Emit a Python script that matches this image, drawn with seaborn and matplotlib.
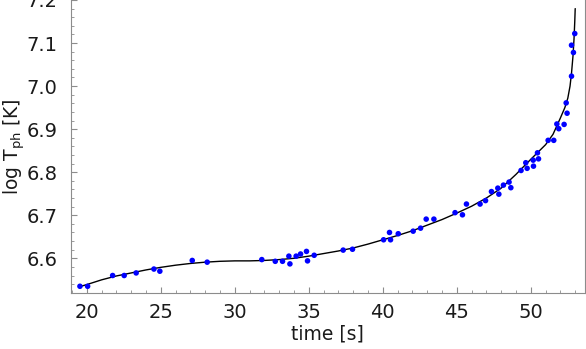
import matplotlib
matplotlib.use("Agg")
import matplotlib.pyplot as plt
from matplotlib.ticker import MultipleLocator
import seaborn as sns
import pandas as pd

# measured points (time [s], log T_ph [K])
time_s = [19.53, 20.05, 21.74, 22.52, 23.33, 24.53, 24.93, 27.12, 28.13,
          31.82, 32.73, 33.22, 33.65, 33.72, 34.14, 34.44, 34.84, 34.91, 35.36,
          37.32, 37.95, 40.05, 40.45, 40.52, 41.04, 42.05, 42.55, 42.93, 43.45,
          44.88, 45.38, 45.65, 46.57, 46.94, 47.34, 47.77, 47.84, 48.15, 48.53,
          48.65, 49.34, 49.66, 49.75, 50.16, 50.18, 50.45, 50.52, 51.17, 51.55,
          51.76, 51.89, 52.25, 52.39, 52.45, 52.75, 52.75, 52.88, 52.97]
log_t = [6.535, 6.535, 6.560, 6.560, 6.566, 6.575, 6.570, 6.595, 6.591,
         6.597, 6.593, 6.593, 6.605, 6.587, 6.605, 6.610, 6.616, 6.594, 6.607,
         6.619, 6.621, 6.643, 6.660, 6.643, 6.657, 6.663, 6.670, 6.691, 6.691,
         6.706, 6.701, 6.726, 6.726, 6.734, 6.755, 6.763, 6.749, 6.770, 6.777,
         6.764, 6.804, 6.822, 6.809, 6.828, 6.814, 6.845, 6.831, 6.874, 6.874,
         6.912, 6.901, 6.911, 6.961, 6.937, 7.023, 7.095, 7.078, 7.122]

# fitted curve
fit_time = [19.5, 20, 21, 22, 23, 24, 25, 26, 27, 28, 29, 30, 31, 32, 33, 34,
            35, 36, 37, 38, 39, 40, 41, 42, 43, 44, 45, 46, 47, 48, 49, 50,
            50.5, 51, 51.5, 52, 52.3, 52.5, 52.65, 52.75, 52.85, 52.92, 52.97, 53.0]
fit_logt = [6.534, 6.539, 6.550, 6.559, 6.566, 6.573, 6.579, 6.584, 6.588, 6.591,
            6.593, 6.594, 6.594, 6.595, 6.597, 6.600, 6.605, 6.611, 6.617, 6.624,
            6.633, 6.643, 6.653, 6.664, 6.677, 6.690, 6.705, 6.721, 6.740, 6.763,
            6.795, 6.830, 6.847, 6.864, 6.888, 6.926, 6.950, 6.972, 7.000, 7.030,
            7.070, 7.110, 7.150, 7.180]

points = pd.DataFrame({"t": time_s, "logT": log_t})
curve = pd.DataFrame({"t": fit_time, "logT": fit_logt})

sns.set_theme(style="ticks")
plt.rcParams["font.family"] = ["DejaVu Sans"]
plt.rcParams["mathtext.default"] = "regular"

fig = plt.figure(figsize=(5.86, 3.49), dpi=100)
ax = fig.add_axes([0.121, 0.160, 0.877, 0.840])

sns.lineplot(data=curve, x="t", y="logT", color="black", linewidth=1.0,
             sort=False, estimator=None, ax=ax)
sns.scatterplot(data=points, x="t", y="logT", color="#0000ff", s=16,
                edgecolor="none", ax=ax, zorder=3)

ax.set_xlim(18.92, 53.65)
ax.set_ylim(6.519, 7.2)
ax.xaxis.set_major_locator(MultipleLocator(5))
ax.xaxis.set_minor_locator(MultipleLocator(1))
ax.yaxis.set_major_locator(MultipleLocator(0.1))
ax.yaxis.set_minor_locator(MultipleLocator(0.02))
ax.yaxis.set_major_formatter(matplotlib.ticker.FormatStrFormatter("%.1f"))

axis_col = "#8c8c8c"
for side in ["left", "bottom", "right"]:
    ax.spines[side].set_color(axis_col)
    ax.spines[side].set_linewidth(0.8)
ax.spines["top"].set_visible(False)

ax.tick_params(which="major", direction="in", length=4, width=0.8,
               color=axis_col, labelsize=14, labelcolor="#1a1a1a", pad=7)
ax.tick_params(axis="y", which="major", pad=9.5)
ax.tick_params(which="minor", direction="in", length=2, width=0.6,
               color=axis_col)
ax.tick_params(axis="y", which="both", right=False)

ax.set_xlabel("time [s]", fontsize=13.5, color="#1a1a1a", labelpad=2)
ax.set_ylabel("log T$_{ph}$ [K]", fontsize=13.5, color="#1a1a1a")
ax.yaxis.set_label_coords(-0.086, 0.5)

fig.savefig("out.png", dpi=100)
